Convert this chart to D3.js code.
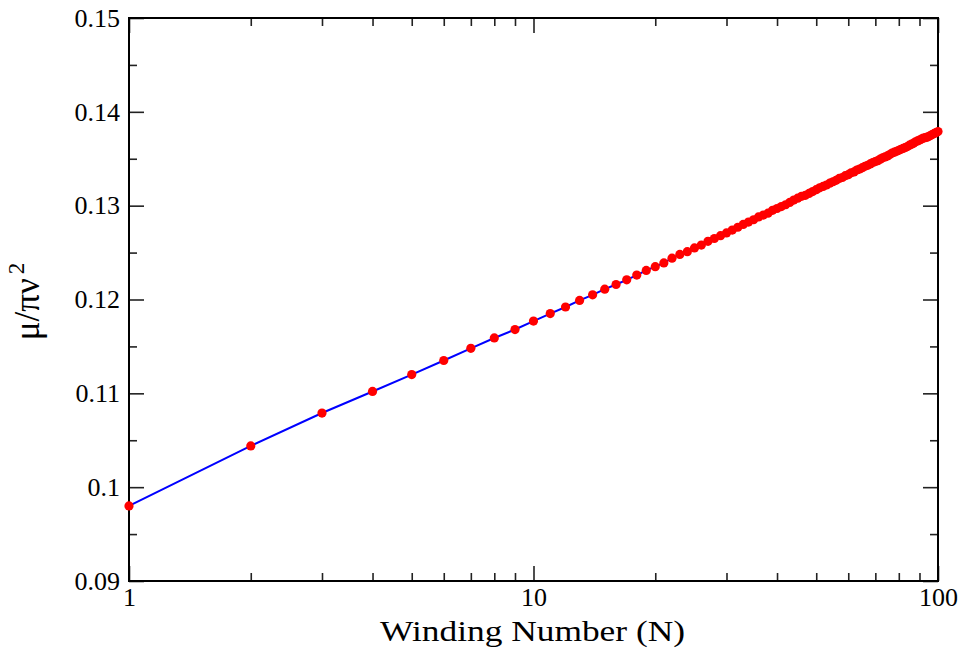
<!DOCTYPE html>
<html>
<head>
<meta charset="utf-8">
<script src="https://cdn.jsdelivr.net/npm/d3@7"></script>
<style>
  body { margin: 0; background: #fff; }
</style>
</head>
<body>
<div id="chart"></div>
<script>
// winding number N = 1..100
let windingN = d3.range(1, 101)

// mu / (pi v^2), one value per N
let muValues = [
  0.0980, 0.1044, 0.1079, 0.1102, 0.1120, 0.1135, 0.1148, 0.1159, 0.1168, 0.1177,
  0.1185, 0.1192, 0.1199, 0.1205, 0.1211, 0.1216, 0.1221, 0.1226, 0.1231, 0.1235,
  0.1239, 0.1244, 0.1248, 0.1251, 0.1255, 0.1258, 0.1262, 0.1265, 0.1268, 0.1271,
  0.1274, 0.1277, 0.1280, 0.12825, 0.1285, 0.1288, 0.1290, 0.1292, 0.1295, 0.1297,
  0.1299, 0.1301, 0.13035, 0.1306, 0.1308, 0.1310, 0.1311, 0.1313, 0.1315, 0.1317,
  0.1319, 0.13205, 0.1322, 0.1324, 0.13255, 0.1327, 0.1329, 0.1330, 0.1332, 0.1333,
  0.1335, 0.1336, 0.1338, 0.1339, 0.13405, 0.1342, 0.1343, 0.13445, 0.1346, 0.1347,
  0.1348, 0.13496, 0.1351, 0.1352, 0.1353, 0.13544, 0.1356, 0.1357, 0.1358, 0.1359,
  0.1360, 0.1361, 0.1362, 0.1363, 0.13645, 0.13655, 0.13665, 0.1368, 0.1369, 0.1370,
  0.1371, 0.1372, 0.13725, 0.1373, 0.1374, 0.1375, 0.1376, 0.1377, 0.1378, 0.1379
]

let xMajor = [1, 10, 100]
let xMajorLabels = ["1", "10", "100"]
let xMinor = [2, 3, 4, 5, 6, 7, 8, 9, 20, 30, 40, 50, 60, 70, 80, 90]
let yMajor = [0.09, 0.10, 0.11, 0.12, 0.13, 0.14, 0.15]
let yMajorLabels = ["0.09", "0.1", "0.11", "0.12", "0.13", "0.14", "0.15"]
let yMinor = [0.095, 0.105, 0.115, 0.125, 0.135, 0.145]

let data = windingN.map((n, i) => ({n: n, v: muValues[i]}))

let serif = "'Liberation Serif', 'Times New Roman', serif"

// set the dimensions and margins of the graph
let margin = {top: 18, right: 27, bottom: 68, left: 129},
    width = 965 - margin.left - margin.right,
    height = 649 - margin.top - margin.bottom;

let svg = d3.select("#chart")
  .append("svg")
    .attr("width", 965)
    .attr("height", 649)
  .append("g")
    .attr("font-family", serif)
    .attr("transform", "translate(" + margin.left + "," + margin.top + ")");

let x = d3.scaleLog()
  .domain([1, 100])
  .range([0, width]);

let y = d3.scaleLinear()
  .domain([0.09, 0.15])
  .range([height, 0]);

// ticks point inward on all four sides
function styleAxis(g) {
  g.attr("font-family", serif).attr("font-size", 26)
  g.select(".domain").remove()
  g.selectAll("line").attr("stroke", "#222").attr("stroke-width", 1.6)
  g.selectAll("text").attr("fill", "#000")
}

svg.append("g")
  .attr("transform", "translate(0," + height + ")")
  .call(d3.axisBottom(x).tickValues(xMajor).tickSize(-15).tickPadding(7)
    .tickFormat((d, i) => xMajorLabels[i]))
  .call(styleAxis)
svg.append("g")
  .attr("transform", "translate(0," + height + ")")
  .call(d3.axisBottom(x).tickValues(xMinor).tickSize(-8).tickFormat(""))
  .call(styleAxis)
svg.append("g")
  .call(d3.axisTop(x).tickValues(xMajor).tickSize(-15).tickFormat(""))
  .call(styleAxis)
svg.append("g")
  .call(d3.axisTop(x).tickValues(xMinor).tickSize(-8).tickFormat(""))
  .call(styleAxis)

svg.append("g")
  .call(d3.axisLeft(y).tickValues(yMajor).tickSize(-15).tickPadding(9)
    .tickFormat((d, i) => yMajorLabels[i]))
  .call(styleAxis)
svg.append("g")
  .call(d3.axisLeft(y).tickValues(yMinor).tickSize(-8).tickFormat(""))
  .call(styleAxis)
svg.append("g")
  .attr("transform", "translate(" + width + ",0)")
  .call(d3.axisRight(y).tickValues(yMajor).tickSize(-15).tickFormat(""))
  .call(styleAxis)
svg.append("g")
  .attr("transform", "translate(" + width + ",0)")
  .call(d3.axisRight(y).tickValues(yMinor).tickSize(-8).tickFormat(""))
  .call(styleAxis)

// frame
svg.append("rect")
  .attr("x", 0)
  .attr("y", 0)
  .attr("width", width)
  .attr("height", height)
  .attr("fill", "none")
  .attr("stroke", "#000")
  .attr("stroke-width", 2)

// blue line through the points
svg.append("path")
  .datum(data)
  .attr("fill", "none")
  .attr("stroke", "#0000ff")
  .attr("stroke-width", 2)
  .attr("d", d3.line().x(d => x(d.n)).y(d => y(d.v)))

// red dots
svg.selectAll(".dot")
  .data(data)
  .enter()
  .append("circle")
    .attr("class", "dot")
    .attr("cx", d => x(d.n))
    .attr("cy", d => y(d.v))
    .attr("r", 4.6)
    .attr("fill", "#ff0000")

// axis titles
svg.append("text")
  .attr("x", width / 2 - 1)
  .attr("y", height + 60)
  .attr("text-anchor", "middle")
  .attr("font-size", 29)
  .attr("textLength", 305)
  .attr("lengthAdjust", "spacingAndGlyphs")
  .text("Winding Number (N)");

let ylab = svg.append("text")
  .attr("transform", "translate(" + (39 - margin.left) + "," + (height / 2 + 2) + ") rotate(-90)")
  .attr("text-anchor", "middle")
  .attr("font-size", 35)
ylab.append("tspan").text("μ/πν")
ylab.append("tspan").attr("dy", -15).attr("dx", 4).attr("font-size", 23).text("2")
</script>
</body>
</html>
